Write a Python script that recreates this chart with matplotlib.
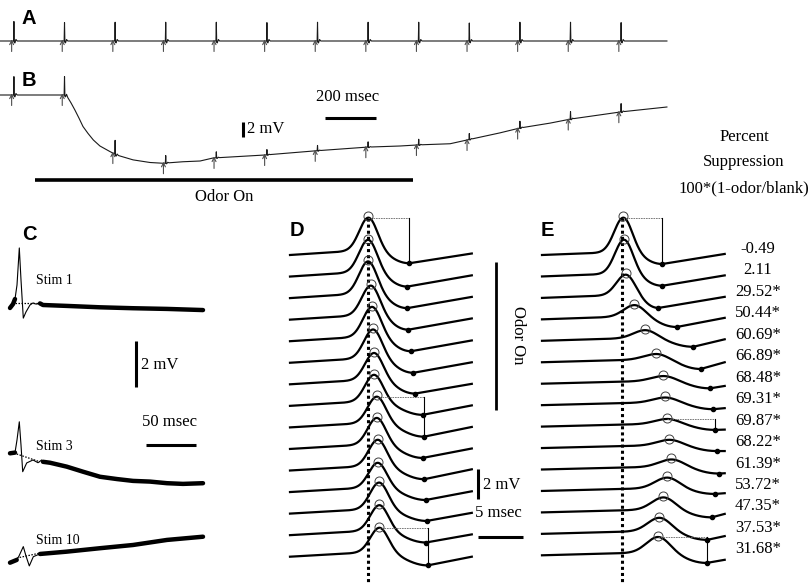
import numpy as np
import matplotlib.pyplot as plt
from matplotlib.transforms import Affine2D

plt.rcParams['font.family'] = ['Liberation Serif', 'DejaVu Serif']

# ---------------- A / B : 5 Hz stimulation, times in ms, levels in mV
stim_ms = [46, 246, 446, 646, 846, 1046, 1246, 1446, 1646, 1846, 2046, 2246, 2446]
amp_a = [2.6, 2.45, 2.5, 2.5, 2.5, 2.45, 2.5, 2.5, 2.5, 2.4, 2.5, 2.5, 2.45]
amp_b = [2.45, 2.45, 1.85, 1.0, 0.8, 0.7, 0.7, 0.7, 0.75, 0.8, 0.9, 1.0, 1.1]
spike_dt = np.array([0, 7.5, 9, 10.5, 13, 17, 22, 30])
spike_f = np.array([0, 0, 1, -0.08, -0.1, 0.08, 0, 0])

a_knot_ms = [0, 2636]
a_knot_mv = [0, 0]
b_knot_ms = [0, 261, 270, 281, 296, 312, 328, 348, 369, 395, 435, 461, 526, 593, 644, 723, 791, 842,
             1047, 1245, 1451, 1581, 1656, 1779, 1846, 1976, 2055, 2174, 2257, 2372, 2455, 2636]
b_knot_mv = [0, 0, -0.45, -1.07, -2.0, -3.07, -4.2, -5.13, -6.0, -6.8, -7.55, -8.0, -8.65, -9.0, -9.1,
             -8.9, -8.8, -8.4, -8.0, -7.45, -6.95, -6.8, -6.65, -6.5, -6.0, -5.05, -4.4, -3.75, -3.2,
             -2.65, -2.25, -1.6]
odor_ms = [138, 1632]

# ---------------- C : single responses (thick = recorded, thin = spike)
c1_pre_ms, c1_pre_mv = [0, 3, 5], [-0.13, 0.04, 0.26]
c1_spk_ms = [5, 7, 9.3, 11, 13.3, 16, 20, 23, 26, 30]
c1_spk_mv = [0.26, 0.87, 2.48, 1.09, -0.57, -0.30, 0.0, 0.09, 0.04, 0.07]
c1_post_ms = [30, 33, 57, 90, 123, 157, 193]
c1_post_mv = [0.07, 0.0, -0.04, -0.10, -0.14, -0.17, -0.22]
c1_dot_ms, c1_dot_mv = [5, 30], [0.1, 0.1]

c3_pre_ms, c3_pre_mv = [0, 5], [0, 0.03]
c3_spk_ms = [5, 7, 9.3, 11, 12.7, 16.7, 23, 28, 31.7, 33]
c3_spk_mv = [0.03, 0.58, 1.37, 0.36, -0.8, -0.42, -0.29, -0.41, -0.29, -0.36]
c3_post_ms = [33, 40, 56.7, 73, 90, 107, 123, 140, 157, 173, 193]
c3_post_mv = [-0.37, -0.41, -0.58, -0.8, -1.02, -1.12, -1.2, -1.23, -1.3, -1.33, -1.3]
c3_dot_ms, c3_dot_mv = [6.7, 30], [-0.03, -0.37]

c10_pre_ms, c10_pre_mv = [0, 6.7], [0, 0.12]
c10_spk_ms = [6.7, 9, 13.3, 16, 19.3, 23.3, 27, 30]
c10_spk_mv = [0.12, 0.29, 0.7, 0.29, -0.14, 0.26, 0.33, 0.38]
c10_post_ms = [30, 56.7, 90, 123, 157, 193]
c10_post_mv = [0.38, 0.48, 0.63, 0.77, 0.99, 1.13]
c10_dot_ms, c10_dot_mv = [6.7, 30], [0.2, 0.42]

# ---------------- D / E : 15 consecutive responses (peak, trough in ms / mV)
d_peak_ms = [8.70, 8.67, 8.67, 8.97, 9.11, 9.22, 9.33, 9.33, 9.63, 9.63, 9.74, 9.74, 9.89, 9.92, 9.92]
d_peak_mv = [2.49, 2.45, 2.45, 2.27, 2.29, 2.22, 2.09, 2.07, 2.05, 2.07, 2.05, 1.95, 2.07, 2.0, 1.93]
d_tr_ms = [13.26, 13.03, 13.03, 13.14, 13.44, 13.7, 13.89, 14.74, 14.89, 14.74, 14.92, 15.08, 15.19, 15.11, 15.3]
d_tr_mv = [-0.55, -0.67, -0.67, -0.67, -0.67, -0.67, -0.62, -0.6, -0.62, -0.6, -0.58, -0.53, -0.49, -0.49, -0.58]
d_end_mv = [0.1, 0.08, 0.08, 0.08, 0.05, 0.03, 0.03, 0.03, 0.03, 0.03, 0.08, 0.05, 0.05, 0.05, 0.0]

e_peak_ms = [9.03, 9.11, 9.3, 10.26, 11.44, 12.67, 13.48, 13.67, 13.89, 14.14, 14.37, 13.89, 13.48, 13.03, 12.89]
e_peak_mv = [2.49, 2.45, 1.55, 0.95, 0.71, 0.55, 0.51, 0.51, 0.51, 0.55, 0.67, 0.89, 1.0, 1.07, 1.22]
e_tr_ms = [13.37, 13.37, 12.92, 14.97, 16.81, 17.63, 18.67, 19.03, 19.26, 19.44, 19.67, 19.22, 18.86, 18.37, 18.3]
e_tr_mv = [-0.6, -0.62, -0.67, -0.51, -0.4, -0.45, -0.31, -0.27, -0.22, -0.2, -0.27, -0.2, -0.33, -0.4, -0.51]
e_end_mv = [0.07, 0.07, 0.07, 0.1, 0.1, 0.0, -0.15, -0.2, -0.2, -0.2, -0.25, -0.15, -0.1, -0.15, -0.3]
e_sigma = [1.0, 1.0, 1.05, 1.2, 1.3, 1.4, 1.4, 1.4, 1.4, 1.4, 1.4, 1.35, 1.3, 1.3, 1.3]
suppression = ['-0.49', '2.11', '29.52*', '50.44*', '60.69*', '66.89*', '68.48*', '69.31*',
               '69.87*', '68.22*', '61.39*', '53.72*', '47.35*', '37.53*', '31.68*']
marked = [0, 8, 14]


fig = plt.figure(figsize=(8.12, 5.85), dpi=100)
ax = fig.add_axes([0, 0, 1, 1])
ax.set_xlim(0, 812)
ax.set_ylim(585, 0)
ax.axis('off')


def tr(x0, y0, sx, sy):
    # ms / mV -> figure pixels, anchored at (x0, y0)
    return Affine2D().scale(sx, -sy).translate(x0, y0) + ax.transData


def with_spikes(knot_t, knot_v, stims, amps):
    kt = np.asarray(knot_t, float)
    kv = np.asarray(knot_v, float)
    keep = np.ones(len(kt), bool)
    for s in stims:
        keep &= ~((kt > s) & (kt < s + spike_dt[-1]))
    ts, vs = [kt[keep]], [kv[keep]]
    for s, a in zip(stims, amps):
        t = s + spike_dt
        ts.append(t)
        vs.append(np.interp(t, kt, kv) + a * spike_f)
    t = np.concatenate(ts)
    v = np.concatenate(vs)
    o = np.argsort(t, kind='stable')
    return t[o], v[o]


def waveform(tp, vp, tt, vt, ve, sigma, rise, T):
    t = np.linspace(0, T, 400)
    g = lambda x: np.exp(-(x - tp) ** 2 / (2 * sigma ** 2))
    A = vp - rise
    d = rise + A * g(tt) - vt
    w = np.where(t < tp, 0.0,
                 np.where(t <= tt, 0.5 * (1 - np.cos(np.pi * (t - tp) / (tt - tp))),
                          1 - (1 - (rise - ve) / d) * (t - tt) / (T - tt)))
    return t, rise * np.clip(t / tp, 0, 1) + A * g(t) - d * w


# ---- A and B
sx_ab, sy_ab = 0.253, 7.5
for (y0, kt, kv, amps) in [(41, a_knot_ms, a_knot_mv, amp_a), (95, b_knot_ms, b_knot_mv, amp_b)]:
    T = tr(0, y0, sx_ab, sy_ab)
    t, v = with_spikes(kt, kv, stim_ms, amps)
    ax.plot(t, v, color='0.1', lw=0.8, transform=T)
    for s in stim_ms:
        lv = np.interp(s, kt, kv)
        ax.annotate('', xy=(s, lv + 0.2), xycoords=T, xytext=(s, lv - 1.4), textcoords=T,
                    arrowprops=dict(arrowstyle='->', color='0.3', lw=0.8, shrinkA=0, shrinkB=0,
                                    mutation_scale=7))
ax.plot(odor_ms, [-11.33, -11.33], color='k', lw=2.6, transform=tr(0, 95, sx_ab, sy_ab),
        solid_capstyle='butt')
ax.text(224, 197, 'Odor On', fontsize=12, ha='center', va='center')
ax.plot([0, 200], [0, 0], color='k', lw=2.2, transform=tr(325, 118, sx_ab, sy_ab), solid_capstyle='butt')
ax.text(348, 97, '200 msec', fontsize=12, ha='center', va='center')
ax.plot([0, 0], [0, 2], color='k', lw=2.2, transform=tr(243, 137, sx_ab, sy_ab), solid_capstyle='butt')
ax.text(247, 129, '2 mV', fontsize=12, ha='left', va='center')

ax.text(744, 137, 'Percent', fontsize=12, ha='center', va='center')
ax.text(744, 162, 'Suppression', fontsize=12, ha='center', va='center')
ax.text(744, 188, '100*(1-odor/blank)', fontsize=12, ha='center', va='center')

# ---- C
sx_c, sy_c = 1.0, 23
c_sets = [
    (305, c1_pre_ms, c1_pre_mv, c1_spk_ms, c1_spk_mv, c1_post_ms, c1_post_mv, c1_dot_ms, c1_dot_mv, 'Stim 1', 281),
    (453.3, c3_pre_ms, c3_pre_mv, c3_spk_ms, c3_spk_mv, c3_post_ms, c3_post_mv, c3_dot_ms, c3_dot_mv, 'Stim 3', 446),
    (562.7, c10_pre_ms, c10_pre_mv, c10_spk_ms, c10_spk_mv, c10_post_ms, c10_post_mv, c10_dot_ms, c10_dot_mv, 'Stim 10', 540),
]
for y0, pt, pv, st, sv, qt, qv, dt, dv, name, ty in c_sets:
    T = tr(10, y0, sx_c, sy_c)
    ax.plot(pt, pv, color='k', lw=3.2, transform=T, solid_capstyle='round')
    ax.plot(st, sv, color='k', lw=0.8, transform=T)
    ax.plot(qt, qv, color='k', lw=3.2, transform=T, solid_capstyle='round')
    ax.plot(dt, dv, color='k', lw=0.9, ls=(0, (1.2, 1.2)), transform=T)
    ax.text(36, ty, name, fontsize=10, ha='left', va='center')
ax.plot([0, 0], [0, 2], color='k', lw=2.2, transform=tr(136, 387, sx_c, sy_c), solid_capstyle='butt')
ax.text(141, 365, '2 mV', fontsize=12, ha='left', va='center')
ax.plot([0, 50], [0, 0], color='k', lw=2.2, transform=tr(146.5, 445, sx_c, sy_c), solid_capstyle='butt')
ax.text(170, 422, '50 msec', fontsize=12, ha='center', va='center')

# ---- D and E
sx_de, sy_de = 9.0, 15.0
panels = [
    (290, 21.55, d_peak_ms, d_peak_mv, d_tr_ms, d_tr_mv, d_end_mv, [1.0] * 15, 0.33, 20.2, 8.7),
    (542, 21.45, e_peak_ms, e_peak_mv, e_tr_ms, e_tr_mv, e_end_mv, e_sigma, 0.2, 20.3, 8.85),
]
for x0, gap, pk_t, pk_v, tr_t, tr_v, end_v, sig, rise, Tend, t_ref in panels:
    ax.plot([t_ref, t_ref], [2.47, -22], color='k', lw=2.2, ls=(0, (1, 1)),
            transform=tr(x0, 255, sx_de, sy_de), zorder=1)
    for i in range(15):
        T = tr(x0, 255 + gap * i, sx_de, sy_de)
        t, v = waveform(pk_t[i], pk_v[i], tr_t[i], tr_v[i], end_v[i], sig[i], rise, Tend)
        ax.plot(t, v, color='k', lw=1.6, transform=T, zorder=2)
        ax.plot(pk_t[i], pk_v[i] + 0.08, 'o', ms=6.5, mfc='none', mec='0.25', mew=0.7, transform=T, zorder=3)
        ax.plot(tr_t[i], tr_v[i], 'o', ms=3, color='k', transform=T, zorder=3)
        if i in marked:
            ax.plot([pk_t[i], tr_t[i]], [pk_v[i], pk_v[i]], color='0.4', lw=0.6, ls=(0, (2, 1)), transform=T)
            ax.plot([tr_t[i], tr_t[i]], [pk_v[i], tr_v[i]], color='k', lw=0.8, transform=T)

for i, s in enumerate(suppression):
    ax.text(758, 249 + 21.45 * i, s, fontsize=12, ha='center', va='center')

ax.plot([496, 496], [262, 410], color='k', lw=2.0, solid_capstyle='butt')
ax.text(518, 335, 'Odor On', fontsize=12, rotation=270, ha='center', va='center')
ax.plot([0, 0], [0, 2], color='k', lw=2.2, transform=tr(478.3, 499, sx_de, sy_de), solid_capstyle='butt')
ax.text(483, 485, '2 mV', fontsize=12, ha='left', va='center')
ax.text(475, 513, '5 msec', fontsize=12, ha='left', va='center')
ax.plot([0, 5], [0, 0], color='k', lw=2.2, transform=tr(478, 537, sx_de, sy_de), solid_capstyle='butt')

# ---- panel letters
for x, y, s in [(22, 18.5, 'A'), (22, 81, 'B'), (22, 234.5, 'C'), (290, 230.5, 'D'), (541, 230, 'E')]:
    ax.text(x, y, s, fontsize=14.5, fontweight='bold', family='Liberation Sans', ha='left', va='center')

fig.savefig('out.png', dpi=100)
